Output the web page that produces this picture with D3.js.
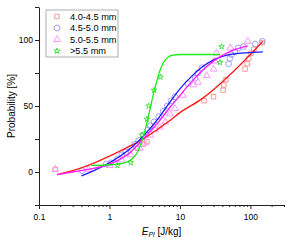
<!DOCTYPE html>
<html>
<head>
<meta charset="utf-8">
<script src="https://cdn.jsdelivr.net/npm/d3@7"></script>
<style>
  body { margin: 0; background: #fff; }
  text { font-family: "Liberation Sans", Arial, sans-serif; fill: #000; }
</style>
</head>
<body>
<div id="chart"></div>
<script>
// legend labels
var SERIES_NAMES = ["4.0-4.5 mm", "4.5-5.0 mm", "5.0-5.5 mm", ">5.5 mm"];

// measured points (E_Pl in J/kg, probability in %)
var redE = [0.17, 2.5, 3.0, 3.4, 22, 30, 41, 42, 45, 84, 90, 95, 102, 112, 148];
var redP = [2, 18, 21, 23, 54, 57, 62, 66, 70, 78, 82, 86, 90, 93, 98];

var blueE = [0.41, 0.9, 1.05, 1.3, 1.5, 1.7, 2.0, 2.3, 2.6, 3.0, 3.5, 3.8, 4.3, 5.0, 5.8, 6.6, 7.5, 8.5, 13, 16.4, 18, 20.5, 49, 51, 54, 60, 67, 80, 117, 148];
var blueP = [1, 6, 7, 10, 13, 15, 18, 21, 24, 28, 32, 35, 38, 42, 46, 50, 54, 57, 67, 71, 75, 79, 82, 86, 89, 91, 94, 95, 97, 99];

var magE = [0.17, 0.5, 1.0, 1.2, 1.5, 2.0, 2.7, 3.2, 3.8, 4.4, 5.2, 6.2, 7.2, 8.5, 11, 15.5, 18, 24, 30, 31, 33, 52, 92];
var magP = [2, 2, 5, 7, 9, 13, 18, 22, 28, 32, 34, 38, 44, 48, 58, 66, 68, 73, 78, 84, 90, 94, 99];

var greenE = [1.3, 2.0, 2.9, 3.4, 3.6, 4.3, 5.3, 37, 39];
var greenP = [5, 7, 28, 40, 50, 62, 72, 83, 95];

// fitted curves
var redFitE = [0.18, 0.3, 0.5, 1, 2, 3, 5, 6.8, 10, 20, 57, 100, 150];
var redFitP = [-2, 1, 5, 12, 20, 25, 33, 38, 45, 55, 76, 89, 99];

var blueFitE = [0.4, 0.6, 1, 2, 3, 5, 7, 10, 15, 20, 30, 50, 100, 150];
var blueFitP = [-3, 1, 7, 18, 27, 41, 52, 63, 73, 79, 85, 89, 90.5, 91];

var magFitE = [0.18, 0.3, 0.5, 1, 2, 3, 5, 7, 10, 15, 20, 30, 50, 92];
var magFitP = [-2, 0, 2, 6, 15, 25, 38, 48, 58, 69, 76, 84, 91, 95.5];

var greenFitE = [0.55, 1, 1.5, 2, 2.5, 3, 3.5, 4, 4.5, 5, 6, 7, 8, 10, 20, 37];
var greenFitP = [5, 5.5, 6.5, 9, 15, 26, 40, 54, 65, 74, 84, 87.5, 88.5, 89, 89, 89];

// axis ticks
var X_MAJOR = [0.1, 1, 10, 100];
var Y_MAJOR = [0, 50, 100];
var Y_MINOR = [-25, 25, 75, 125];

var WIDTH = 290, HEIGHT = 244;

var svg = d3.select('#chart').append('svg')
    .attr('width', WIDTH)
    .attr('height', HEIGHT);

var x = d3.scaleLog().domain([0.1, 300]).range([39, 284]);
var y = d3.scaleLinear().domain([-25, 125]).range([205, 7]);

// minor x ticks: 2..9 of each decade
var xMinor = [];
[0.1, 1, 10, 100].forEach(function(d) {
    for (var k = 2; k <= 9; k++) {
        if (d * k <= 300) xMinor.push(d * k);
    }
});

// x axis
svg.append('g')
    .attr('transform', 'translate(0,' + y.range()[0] + ')')
    .call(d3.axisBottom(x).tickValues(xMinor).tickSize(2).tickSizeOuter(0).tickFormat(''))
    .call(function(g) { g.select('.domain').remove(); });

svg.append('g')
    .attr('transform', 'translate(0,' + y.range()[0] + ')')
    .call(d3.axisBottom(x).tickValues(X_MAJOR).tickSize(4).tickSizeOuter(0)
        .tickFormat(function(d) { return d3.format('~g')(d); }))
    .call(function(g) {
        g.selectAll('text').style('font-size', '8.5px').attr('dy', '0.9em');
    });

// y axis
svg.append('g')
    .attr('transform', 'translate(' + x.range()[0] + ',0)')
    .call(d3.axisLeft(y).tickValues(Y_MINOR).tickSize(4).tickSizeOuter(0).tickFormat(''))
    .call(function(g) { g.select('.domain').remove(); });

svg.append('g')
    .attr('transform', 'translate(' + x.range()[0] + ',0)')
    .call(d3.axisLeft(y).tickValues(Y_MAJOR).tickSize(4).tickSizeOuter(0))
    .call(function(g) {
        g.selectAll('text').style('font-size', '8.5px').attr('x', -6);
    });

svg.selectAll('.domain, .tick line').attr('stroke', '#222');

// axis titles
svg.append('text')
    .attr('transform', 'translate(15,106) rotate(-90)')
    .attr('text-anchor', 'middle')
    .style('font-size', '10px')
    .text('Probability [%]');

var xt = svg.append('text')
    .attr('x', 161.5)
    .attr('y', 235)
    .attr('text-anchor', 'middle')
    .style('font-size', '10px');
xt.append('tspan').style('font-style', 'italic').text('E');
xt.append('tspan').style('font-style', 'italic').style('font-size', '7px').attr('dy', 2).text('Pl');
xt.append('tspan').attr('dy', -2).text(' [J/kg]');

var series = [
    {E: redE, P: redP, fitE: redFitE, fitP: redFitP, line: '#ff1a1a', mark: '#ff8c8c', sym: d3.symbolSquare, size: 20},
    {E: blueE, P: blueP, fitE: blueFitE, fitP: blueFitP, line: '#1a1aff', mark: '#9494ff', sym: d3.symbolCircle, size: 26},
    {E: magE, P: magP, fitE: magFitE, fitP: magFitP, line: '#ff1aff', mark: '#ff8cff', sym: d3.symbolTriangle, size: 20},
    {E: greenE, P: greenP, fitE: greenFitE, fitP: greenFitP, line: '#1aee1a', mark: '#33dd33', sym: d3.symbolStar, size: 10}
];

var line = d3.line()
    .x(function(d) { return x(d[0]); })
    .y(function(d) { return y(d[1]); })
    .curve(d3.curveMonotoneX);

// points
series.forEach(function(s) {
    var pts = s.E.map(function(e, i) { return [e, s.P[i]]; });
    svg.append('g').selectAll('path')
        .data(pts)
        .enter()
        .append('path')
            .attr('d', d3.symbol().type(s.sym).size(s.size))
            .attr('transform', function(d) { return 'translate(' + x(d[0]) + ',' + y(d[1]) + ')'; })
            .attr('fill', 'none')
            .attr('stroke', s.mark)
            .attr('stroke-width', 0.9);
});

// fit curves
series.forEach(function(s) {
    var pts = s.fitE.map(function(e, i) { return [e, s.fitP[i]]; });
    svg.append('path')
        .datum(pts)
        .attr('d', line)
        .attr('fill', 'none')
        .attr('stroke', s.line)
        .attr('stroke-width', 1.3);
});

// legend
var legend = svg.append('g');
legend.append('rect')
    .attr('x', 46).attr('y', 10)
    .attr('width', 72).attr('height', 47)
    .attr('fill', '#fff')
    .attr('stroke', '#999')
    .attr('stroke-width', 0.8);

series.forEach(function(s, i) {
    var ly = 16.5 + i * 11.5;
    legend.append('path')
        .attr('d', d3.symbol().type(s.sym).size(s.size))
        .attr('transform', 'translate(57,' + ly + ')')
        .attr('fill', 'none')
        .attr('stroke', s.mark)
        .attr('stroke-width', 0.9);
    legend.append('text')
        .attr('x', 70)
        .attr('y', ly)
        .attr('dy', '0.35em')
        .style('font-size', '9.2px')
        .text(SERIES_NAMES[i]);
});
</script>
</body>
</html>
